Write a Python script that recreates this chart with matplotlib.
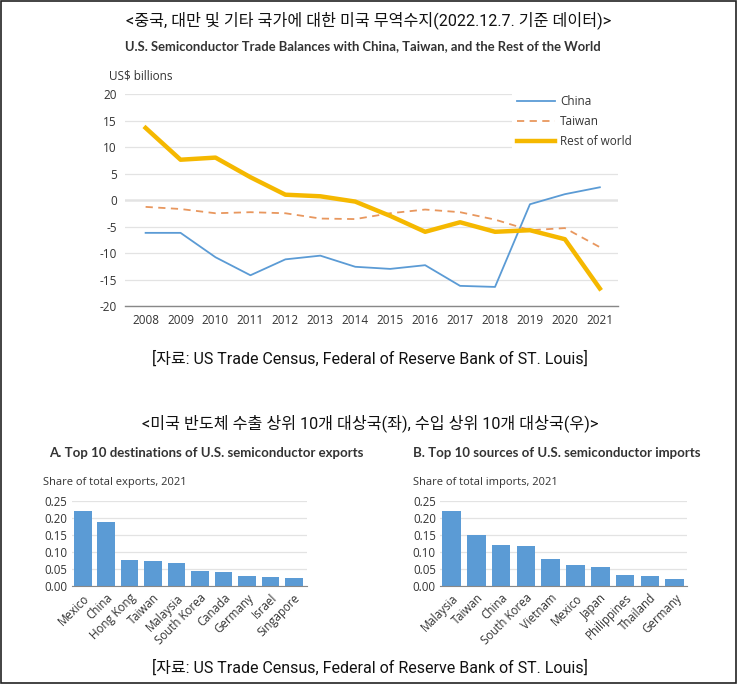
import matplotlib
matplotlib.use("Agg")
import matplotlib.pyplot as plt
from matplotlib.patches import Rectangle

# ---- data ----
years = list(range(2008, 2022))
china = [-6.2, -6.2, -10.8, -14.2, -11.2, -10.5, -12.6, -13.0, -12.3, -16.2, -16.4, -0.8, 1.1, 2.4]
taiwan = [-1.3, -1.7, -2.5, -2.3, -2.5, -3.5, -3.6, -2.5, -1.8, -2.3, -3.7, -5.7, -5.3, -8.9]
rest_of_world = [13.6, 7.6, 8.0, 4.3, 1.0, 0.7, -0.3, -3.0, -6.0, -4.2, -6.0, -5.7, -7.4, -16.7]

export_countries = ["Mexico", "China", "Hong Kong", "Taiwan", "Malaysia",
                    "South Korea", "Canada", "Germany", "Israel", "Singapore"]
export_shares = [0.221, 0.189, 0.075, 0.072, 0.066, 0.044, 0.041, 0.029, 0.026, 0.024]

import_countries = ["Malaysia", "Taiwan", "China", "South Korea", "Vietnam",
                    "Mexico", "Japan", "Philippines", "Thailand", "Germany"]
import_shares = [0.219, 0.149, 0.120, 0.116, 0.080, 0.062, 0.056, 0.032, 0.028, 0.020]

# ---- style ----
BLUE = "#5b9bd5"
ORANGE = "#e8975e"
GOLD = "#f5b800"
GRID = "#e3e3e3"
TEXT = "#333333"
KR = ["Roboto", "Noto Sans CJK KR"]
SANS = ["Open Sans", "DejaVu Sans"]
BOLD = ["Lato", "DejaVu Sans"]

plt.rcParams["font.family"] = SANS
plt.rcParams["axes.unicode_minus"] = False

W, H = 738, 684
fig = plt.figure(figsize=(W / 100, H / 100), dpi=100)
fig.patch.set_facecolor("white")


def fx(px):
    return px / W


def fy(py):
    return 1 - py / H


fig.add_artist(Rectangle((fx(1), fy(683)), fx(735), 682 / H, transform=fig.transFigure,
                         fill=False, edgecolor="#222222", lw=1.2))

# headers / sources
fig.text(fx(369), fy(20), "<중국, 대만 및 기타 국가에 대한 미국 무역수지(2022.12.7. 기준 데이터)>",
         ha="center", va="center", fontsize=11.6, family=KR, color="#111111")
fig.text(fx(363), fy(46), "U.S. Semiconductor Trade Balances with China, Taiwan, and the Rest of the World",
         ha="center", va="center", fontsize=9.35, fontweight="bold", family=BOLD, color=TEXT)
fig.text(fx(370), fy(359), "[자료: US Trade Census, Federal of Reserve Bank of ST. Louis]",
         ha="center", va="center", fontsize=11.5, family=KR, color="#111111")
fig.text(fx(370), fy(423), "<미국 반도체 수출 상위 10개 대상국(좌), 수입 상위 10개 대상국(우)>",
         ha="center", va="center", fontsize=11.6, family=KR, color="#111111")
fig.text(fx(370), fy(668), "[자료: US Trade Census, Federal of Reserve Bank of ST. Louis]",
         ha="center", va="center", fontsize=11.5, family=KR, color="#111111")

# ---- line chart ----
ax = fig.add_axes([fx(125), fy(306), fx(618 - 125), (306 - 94) / H])
ax.plot(years, china, color=BLUE, lw=1.3, label="China")
ax.plot(years, taiwan, color=ORANGE, lw=1.3, ls=(0, (4, 3)), label="Taiwan")
ax.plot(years, rest_of_world, color=GOLD, lw=3.2, label="Rest of world", solid_joinstyle="round")
ax.set_xlim(2007.41, 2021.52)
ax.set_ylim(-20, 20)
ax.set_xticks(years)
ax.set_yticks(range(-20, 21, 5))
ax.grid(axis="y", color=GRID, lw=0.9)
ax.axhline(0, color="#a0a0a0", lw=1.0, zorder=1)
for s in ["top", "right", "left"]:
    ax.spines[s].set_visible(False)
ax.spines["bottom"].set_color("#888888")
ax.spines["bottom"].set_linewidth(1.0)
ax.tick_params(length=0, labelsize=8.5, labelcolor=TEXT, pad=6)
fig.text(fx(109), fy(76), "US$ billions", fontsize=8.5, color=TEXT, ha="left", va="center")
leg = ax.legend(loc="upper left", bbox_to_anchor=((512 - 125) / 493, (306 - 90) / 212),
                borderaxespad=0, frameon=True, fontsize=8.5, handlelength=3.2,
                handletextpad=0.45, labelspacing=0.6, borderpad=0.4)
leg.get_frame().set_facecolor("white")
leg.get_frame().set_edgecolor("none")
leg.get_frame().set_alpha(1)
for t in leg.get_texts():
    t.set_color(TEXT)


def bar_panel(left_px, right_px, xlim, cats, vals, title, subtitle, title_x, sub_x):
    a = fig.add_axes([fx(left_px), fy(586), fx(right_px - left_px), (586 - 500.7) / H])
    a.bar(range(len(cats)), vals, width=0.75, color=BLUE, zorder=2)
    a.set_xlim(*xlim)
    a.set_ylim(0, 0.25)
    ticks = [0, 0.05, 0.10, 0.15, 0.20, 0.25]
    a.set_yticks(ticks)
    a.set_yticklabels([f"{v:.2f}" for v in ticks])
    a.set_xticks(range(len(cats)))
    a.set_xticklabels(cats, rotation=45, ha="right", rotation_mode="anchor", fontsize=8.6)
    a.grid(axis="y", color=GRID, lw=0.9, zorder=0)
    for s in ["top", "right", "left"]:
        a.spines[s].set_visible(False)
    a.spines["bottom"].set_color("#888888")
    a.tick_params(length=0, labelsize=8.3, labelcolor=TEXT)
    a.tick_params(axis="x", pad=4)
    a.tick_params(axis="y", pad=3)
    fig.text(fx(title_x), fy(453), title, ha="left", va="center", fontsize=9.5,
             fontweight="bold", family=BOLD, color=TEXT)
    fig.text(fx(sub_x), fy(482), subtitle, ha="left", va="center", fontsize=8,
             color=TEXT)
    return a


bar_panel(71.7, 306.7, (-0.47, 9.55), export_countries, export_shares,
          "A. Top 10 destinations of U.S. semiconductor exports",
          "Share of total exports, 2021", 49, 43)
bar_panel(440, 686.7, (-0.46, 9.48), import_countries, import_shares,
          "B. Top 10 sources of U.S. semiconductor imports",
          "Share of total imports, 2021", 413, 413)

fig.savefig("out.png", dpi=100)
